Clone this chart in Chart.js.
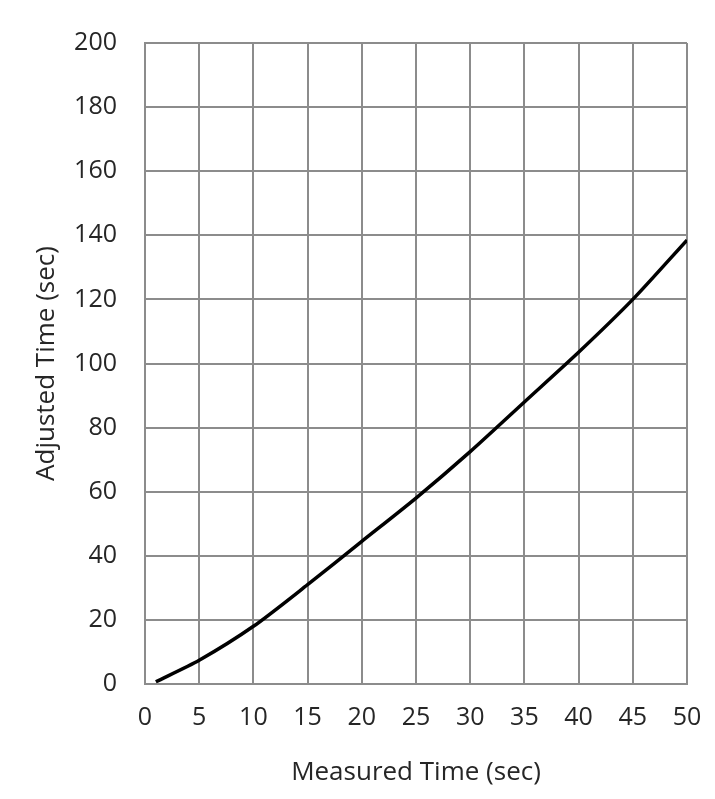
<!DOCTYPE html>
<html>
<head>
<meta charset="utf-8">
<script src="https://cdn.jsdelivr.net/npm/chart.js@4.4.1/dist/chart.umd.min.js"></script>
<style>
  html, body { margin: 0; padding: 0; background: #fff; }
  #wrap { width: 715px; height: 799px; }
</style>
</head>
<body>
<div id="wrap"><canvas id="timeChart" width="715" height="799"></canvas></div>
<script>
// measured vs adjusted time
const measured = [1, 5, 10, 15, 20, 25, 30, 35, 40, 45, 50];
const adjusted = [0.7, 7.4, 18, 31, 44.5, 58, 72.5, 88, 103.5, 120, 138.5];
const xTicks = [0, 5, 10, 15, 20, 25, 30, 35, 40, 45, 50];
const yTicks = [0, 20, 40, 60, 80, 100, 120, 140, 160, 180, 200];

const gridColor = '#8c8c8c'
const textColor = '#262626'
const fontFamily = "'Open Sans', 'Liberation Sans', sans-serif"

const points = measured.map((x, i) => ({x: x, y: adjusted[i]}))

const ctx = document.getElementById('timeChart').getContext('2d');
new Chart(ctx, {
    type: 'line',
    data: {
        datasets: [{
            data: points,
            borderColor: '#000000',
            borderWidth: 3.5,
            pointRadius: 0,
            tension: 0.25,
            fill: false
        }]
    },
    options: {
        responsive: false,
        animation: false,
        layout: {padding: {top: 42, right: 28, left: 0, bottom: 0}},
        plugins: {legend: {display: false}, tooltip: {enabled: false}},
        scales: {
            x: {
                type: 'linear',
                min: xTicks[0],
                max: xTicks[xTicks.length - 1],
                afterBuildTicks: (axis) => { axis.ticks = xTicks.map(v => ({value: v})) },
                afterFit: (axis) => {
                    axis.height = 115
                    // don't let the "50" label push the plot area in
                    axis.paddingLeft = 0
                    axis.paddingRight = 0
                },
                grid: {color: gridColor, lineWidth: 2, drawTicks: false},
                border: {color: gridColor, width: 2},
                ticks: {color: textColor, padding: 19, font: {family: fontFamily, size: 25}},
                title: {
                    display: true, text: 'Measured Time (sec)', color: textColor,
                    font: {family: fontFamily, size: 26}, padding: {top: 11, bottom: 11}
                }
            },
            y: {
                type: 'linear',
                min: yTicks[0],
                max: yTicks[yTicks.length - 1],
                afterBuildTicks: (axis) => { axis.ticks = yTicks.map(v => ({value: v})) },
                afterFit: (axis) => { axis.width = 145 },
                grid: {color: gridColor, lineWidth: 2, drawTicks: false},
                border: {color: gridColor, width: 2},
                ticks: {color: textColor, padding: 28, font: {family: fontFamily, size: 25}},
                title: {
                    display: true, text: 'Adjusted Time (sec)', color: textColor,
                    font: {family: fontFamily, size: 26}, padding: {top: 31, bottom: 31}
                }
            }
        }
    }
});
</script>
</body>
</html>
